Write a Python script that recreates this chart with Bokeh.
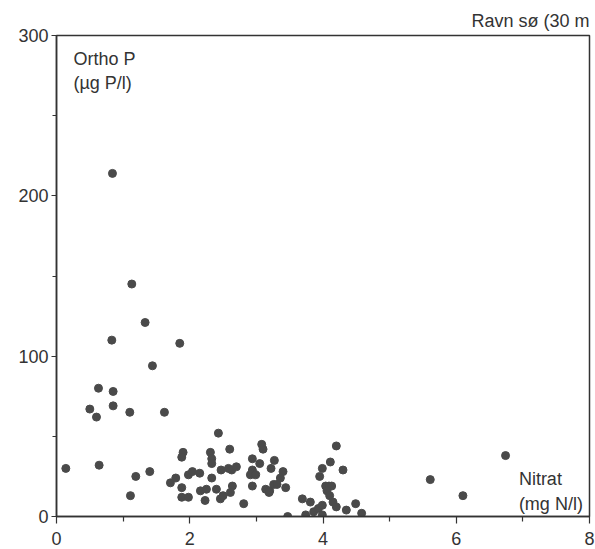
from bokeh.plotting import figure
from bokeh.models import FixedTicker, Label, Range1d, ColumnDataSource
from bokeh.embed import file_html
from bokeh.resources import INLINE

# Nitrate (mg N/l) and ortho-phosphate (µg P/l) samples, Ravn sø
nitrat = [
    0.84, 1.13, 1.33, 0.83, 1.85, 1.44, 0.63, 0.85, 0.50, 0.85,
    0.60, 1.10, 1.62, 0.14, 0.64, 1.40, 1.19, 1.11, 2.43, 1.90,
    1.88, 1.71, 1.79, 1.88, 1.88, 1.98, 1.98, 2.04, 2.15, 2.31,
    2.33, 2.33, 2.33, 2.16, 2.25, 2.23, 2.40, 2.46, 2.50, 2.60,
    2.47, 2.58, 2.63, 2.70, 2.64, 2.61, 2.81, 3.08, 3.10, 2.94,
    3.05, 2.94, 2.91, 2.99, 2.94, 3.27, 3.22, 3.40, 3.36, 3.44,
    3.14, 3.20, 3.26, 3.31, 3.19, 3.47, 3.69, 4.20, 4.11, 4.30,
    3.99, 3.95, 4.04, 4.09, 4.13, 4.06, 4.10, 4.15, 4.20, 4.35,
    4.49, 4.58, 3.81, 3.74, 3.86, 3.93, 3.99, 3.99, 5.61, 6.10,
    6.74,
]
ortho_p = [
    214, 145, 121, 110, 108, 94, 80, 78, 67, 69,
    62, 65, 65, 30, 32, 28, 25, 13, 52, 40,
    37, 21, 24, 18, 12, 12, 26, 28, 27, 40,
    36, 33, 24, 16, 17, 10, 17, 11, 13, 42,
    29, 30, 29, 31, 19, 15, 8, 45, 42, 36,
    33, 29, 26, 26, 19, 35, 30, 28, 24, 18,
    17, 16, 20, 20, 15, 0, 11, 44, 34, 29,
    30, 25, 19, 19, 19, 16, 13, 9, 6, 4,
    8, 2, 9, 1, 3, 5, 7, 1, 23, 13,
    38,
]
x_ticks = [0, 2, 4, 6, 8]
x_minor = [1, 3, 5, 7]
y_ticks = [0, 100, 200, 300]
y_minor = [50, 150, 250]

INK = "#333333"
DOT = "#4a4a4a"
FONT = "Liberation Sans"
FSIZE = "18px"

p = figure(
    width=595, height=549,
    x_range=Range1d(0, 8), y_range=Range1d(0, 300),
    output_backend="svg", toolbar_location=None,
    min_border_left=56, min_border_right=6,
    min_border_top=35, min_border_bottom=33,
    background_fill_color="white", border_fill_color="white",
    title="Ravn sø (30 m",
)
p.title.align = "right"
p.title.text_font = FONT
p.title.text_font_size = FSIZE
p.title.text_font_style = "normal"
p.title.text_color = INK
p.title.standoff = 9

p.grid.visible = False
p.outline_line_color = INK
p.outline_line_width = 1.5

p.xaxis.ticker = FixedTicker(ticks=x_ticks, minor_ticks=x_minor)
p.yaxis.ticker = FixedTicker(ticks=y_ticks, minor_ticks=y_minor)
for ax in (p.xaxis[0], p.yaxis[0]):
    ax.axis_line_color = INK
    ax.axis_line_width = 1.5
    ax.major_tick_line_color = INK
    ax.minor_tick_line_color = INK
    ax.major_tick_line_width = 1.2
    ax.minor_tick_line_width = 1.2
    ax.major_tick_in = 0
    ax.minor_tick_in = 0
    ax.major_label_text_font = FONT
    ax.major_label_text_font_size = FSIZE
    ax.major_label_text_color = INK
p.xaxis.major_tick_out = 7
p.xaxis.minor_tick_out = 5
p.xaxis.major_label_standoff = 8
p.yaxis.major_tick_out = 5
p.yaxis.minor_tick_out = 4
p.yaxis.major_label_standoff = 3

src = ColumnDataSource(dict(x=nitrat, y=ortho_p))
p.scatter("x", "y", source=src, size=8, fill_color=DOT, line_color=DOT)

def note(x, y, text):
    p.add_layout(Label(
        x=x, y=y, text=text, text_font=FONT, text_font_size=FSIZE,
        text_color=INK, text_baseline="alphabetic", text_align="left",
    ))

note(0.255, 285.3, "Ortho P")
note(0.255, 270.5, "(µg P/l)")
note(6.94, 23.2, "Nitrat")
note(6.94, 7.6, "(mg N/l)")

open("out.html", "w").write(file_html(p, INLINE))
